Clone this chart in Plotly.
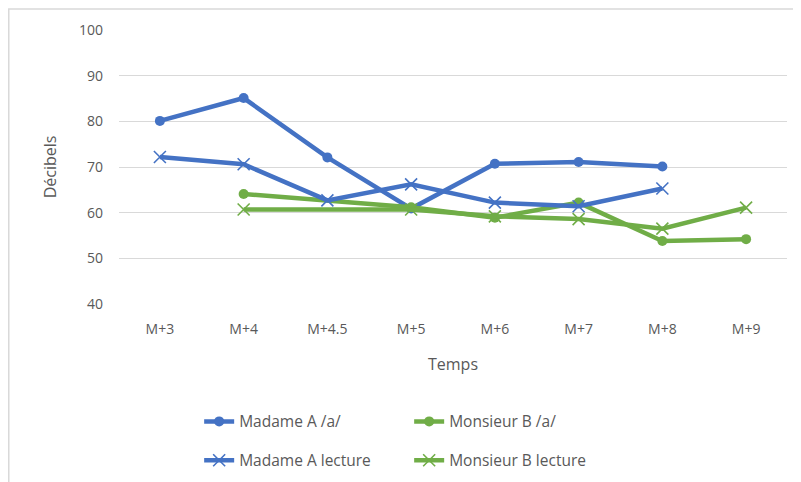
import plotly.graph_objects as go

months = ["M+3", "M+4", "M+4.5", "M+5", "M+6", "M+7", "M+8", "M+9"]

madame_a_a = [80.1, 85.1, 72.1, 60.9, 70.7, 71.1, 70.1, None]
monsieur_b_a = [None, 64.1, None, 61.2, 58.9, 62.2, 53.8, 54.2]
madame_a_lecture = [72.2, 70.6, 62.7, 66.2, 62.2, 61.4, 65.3, None]
monsieur_b_lecture = [None, 60.7, None, 60.7, 59.2, 58.6, 56.5, 61.1]

blue = "#4472C4"
green = "#70AD47"
font = "Open Sans"

fig = go.Figure()

fig.add_trace(go.Scatter(x=months, y=madame_a_a, name="Madame A /a/",
                         mode="lines+markers", connectgaps=True,
                         line=dict(color=blue, width=4.5),
                         marker=dict(symbol="circle", size=10, color=blue),
                         legend="legend"))
fig.add_trace(go.Scatter(x=months, y=monsieur_b_a, name="Monsieur B /a/",
                         mode="lines+markers", connectgaps=True,
                         line=dict(color=green, width=4.5),
                         marker=dict(symbol="circle", size=10, color=green),
                         legend="legend"))
fig.add_trace(go.Scatter(x=months, y=madame_a_lecture, name="Madame A lecture",
                         mode="lines+markers", connectgaps=True,
                         line=dict(color=blue, width=4.5),
                         marker=dict(symbol="x-thin", size=12,
                                     line=dict(color=blue, width=1.6)),
                         legend="legend2"))
fig.add_trace(go.Scatter(x=months, y=monsieur_b_lecture, name="Monsieur B lecture",
                         mode="lines+markers", connectgaps=True,
                         line=dict(color=green, width=4.5),
                         marker=dict(symbol="x-thin", size=12,
                                     line=dict(color=green, width=1.6)),
                         legend="legend2"))

legend_style = dict(orientation="h", xanchor="left", yanchor="middle",
                    x=0.12, entrywidth=165, entrywidthmode="pixels",
                    font=dict(family=font, size=15.5, color="#595959"),
                    bgcolor="rgba(0,0,0,0)")

# the page adds an 8px body margin, so the figure is 8px smaller each way
fig.update_layout(
    width=793, height=474,
    margin=dict(l=111, r=14, t=22, b=178, autoexpand=False),
    paper_bgcolor="white", plot_bgcolor="white",
    font=dict(family=font, color="#595959"),
    showlegend=True,
    legend=dict(legend_style, y=-0.43),
    legend2=dict(legend_style, y=-0.572),
    xaxis=dict(
        type="category", showgrid=False, showline=False, zeroline=False,
        automargin=False,
        tickfont=dict(size=14, color="#595959"), ticks="",
        ticklabelstandoff=15,
        title=dict(text="Temps", font=dict(size=16, color="#595959"), standoff=21),
    ),
    yaxis=dict(
        range=[40, 100], dtick=10, showgrid=True, gridcolor="#D9D9D9",
        gridwidth=1, zeroline=False, showline=False, ticks="",
        automargin=False,
        tickfont=dict(size=14, color="#595959"),
        ticklabelstandoff=15,
        title=dict(text="Décibels", font=dict(size=16, color="#595959"), standoff=18),
    ),
    shapes=[dict(type="rect", xref="paper", yref="paper",
                 x0=-0.165, x1=1.2, y0=-0.8, y1=1.077,
                 line=dict(color="#D9D9D9", width=1.5), layer="below")],
)

fig.write_html("out.html")
